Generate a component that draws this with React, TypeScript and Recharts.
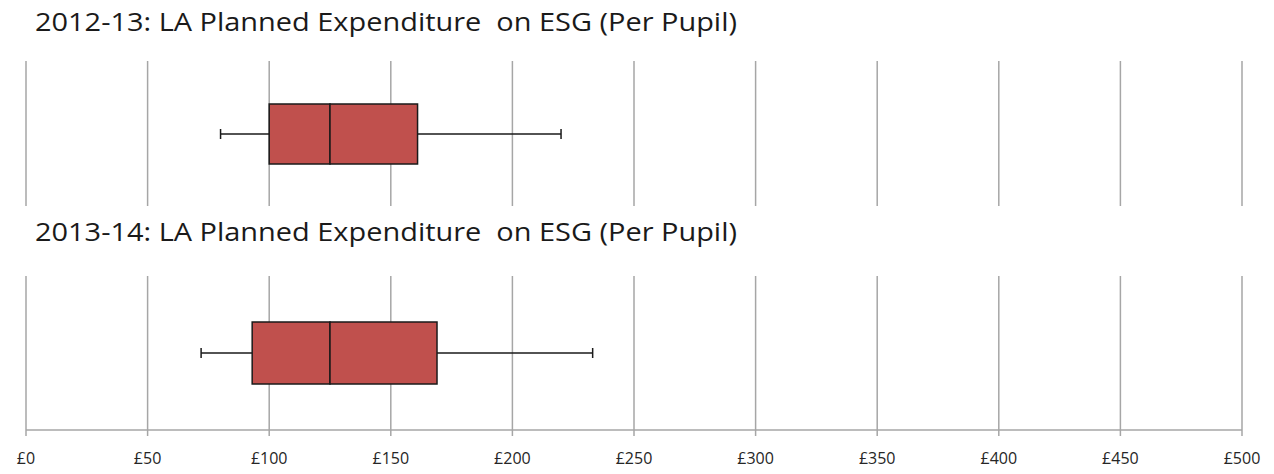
import React from "react";
import { ComposedChart, Bar, XAxis, YAxis, CartesianGrid } from "recharts";

const periods = ["2012-13", "2013-14"];
const titles = [
  "2012-13: LA Planned Expenditure  on ESG (Per Pupil)",
  "2013-14: LA Planned Expenditure  on ESG (Per Pupil)",
];
const minValues = [80, 72];
const q1Values = [100, 93];
const medianValues = [125, 125];
const q3Values = [161, 169];
const maxValues = [220, 233];
const xTicks = [0, 50, 100, 150, 200, 250, 300, 350, 400, 450, 500];
const tickLabel = (v: number) => `£${v}`;

const BOX_FILL = "#c0504d";
const EDGE = "#1a1a1a";
const GRID = "#a6a6a6";

const rowFor = (i: number) => ({
  name: periods[i],
  base: minValues[i],
  lowWhisker: q1Values[i] - minValues[i],
  lowBox: medianValues[i] - q1Values[i],
  highBox: q3Values[i] - medianValues[i],
  highWhisker: maxValues[i] - q3Values[i],
});

const Empty = () => <g />;

const BoxShape = (p: any) => (
  <rect x={p.x} y={p.y} width={p.width} height={p.height} fill={BOX_FILL} stroke={EDGE} strokeWidth={1.5} />
);

const LowWhisker = (p: any) => {
  const cy = p.y + p.height / 2;
  return (
    <g>
      <line x1={p.x} x2={p.x + p.width} y1={cy} y2={cy} stroke={EDGE} strokeWidth={1.5} />
      <line x1={p.x} x2={p.x} y1={cy - 5} y2={cy + 5} stroke={EDGE} strokeWidth={1.5} />
    </g>
  );
};

const HighWhisker = (p: any) => {
  const cy = p.y + p.height / 2;
  const ex = p.x + p.width;
  return (
    <g>
      <line x1={p.x} x2={ex} y1={cy} y2={cy} stroke={EDGE} strokeWidth={1.5} />
      <line x1={ex} x2={ex} y1={cy - 5} y2={cy + 5} stroke={EDGE} strokeWidth={1.5} />
    </g>
  );
};

const AxisTick = (p: any) => (
  <text
    x={p.x}
    y={p.y}
    dy={13}
    textAnchor="middle"
    fill="#262626"
    fontSize={16}
    fontFamily="Open Sans"
  >
    {tickLabel(p.payload.value)}
  </text>
);

function BoxChart({ index, height, margin, showAxis, barSize }: any) {
  const data = [rowFor(index)];
  return (
    <ComposedChart
      width={1274}
      height={height}
      data={data}
      layout="vertical"
      margin={margin}
      barCategoryGap={0}
    >
      <CartesianGrid horizontal={false} vertical={true} stroke={GRID} strokeWidth={1.5} />
      <XAxis
        type="number"
        domain={[0, 500]}
        ticks={xTicks}
        interval={0}
        hide={!showAxis}
        height={44}
        axisLine={{ stroke: GRID, strokeWidth: 1.5 }}
        tickLine={{ stroke: GRID, strokeWidth: 1.5 }}
        tickSize={6}
        tickMargin={15}
        tick={<AxisTick />}
      />
      <YAxis type="category" dataKey="name" hide />
      <Bar dataKey="base" stackId="b" shape={<Empty />} barSize={barSize} isAnimationActive={false} />
      <Bar dataKey="lowWhisker" stackId="b" shape={<LowWhisker />} barSize={barSize} isAnimationActive={false} />
      <Bar dataKey="lowBox" stackId="b" shape={<BoxShape />} barSize={barSize} isAnimationActive={false} />
      <Bar dataKey="highBox" stackId="b" shape={<BoxShape />} barSize={barSize} isAnimationActive={false} />
      <Bar dataKey="highWhisker" stackId="b" shape={<HighWhisker />} barSize={barSize} isAnimationActive={false} />
    </ComposedChart>
  );
}

export default function App() {
  return (
    <div style={{ position: "absolute", left: 0, top: 0, width: 1274, height: 474, background: "#fff" }}>
      <div style={{ position: "absolute", left: 0, top: 0 }}>
        <BoxChart index={0} height={206} margin={{ top: 61, right: 32, bottom: 0, left: 26 }} showAxis={false} barSize={60} />
      </div>
      <div style={{ position: "absolute", left: 0, top: 240 }}>
        <BoxChart index={1} height={234} margin={{ top: 36, right: 32, bottom: 0, left: 26 }} showAxis={true} barSize={62} />
      </div>
      <svg
        width={1274}
        height={474}
        style={{ position: "absolute", left: 0, top: 0, pointerEvents: "none" }}
      >
        <text x={35} y={31} fontFamily="Open Sans" fontSize={26} fill="#1a1a1a" textLength={702} lengthAdjust="spacingAndGlyphs" style={{ whiteSpace: "pre" }}>
          {titles[0]}
        </text>
        <text x={35} y={241} fontFamily="Open Sans" fontSize={26} fill="#1a1a1a" textLength={702} lengthAdjust="spacingAndGlyphs" style={{ whiteSpace: "pre" }}>
          {titles[1]}
        </text>
      </svg>
    </div>
  );
}
